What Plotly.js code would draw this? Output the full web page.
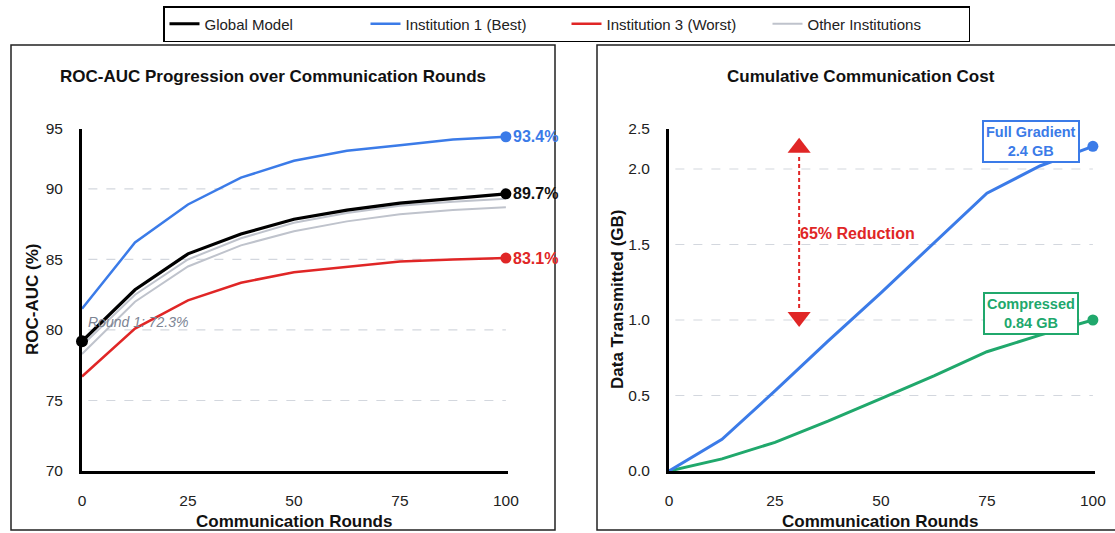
<!DOCTYPE html>
<html>
<head>
<meta charset="utf-8">
<script src="https://cdn.plot.ly/plotly-3.0.1.min.js"></script>
<style>html,body{margin:0;padding:0;background:#fff;}#chart{width:1115px;height:533px;}</style>
</head>
<body>
<div id="chart"></div>
<script>
// ---- data ----
const rounds = [0, 12.5, 25, 37.5, 50, 62.5, 75, 87.5, 100];
const globalAuc = [79.2, 82.85, 85.4, 86.8, 87.85, 88.5, 89.0, 89.35, 89.65];
const inst1Auc = [81.5, 86.2, 88.9, 90.8, 92.0, 92.7, 93.1, 93.5, 93.7];
const inst3Auc = [76.7, 80.1, 82.1, 83.35, 84.1, 84.5, 84.85, 85.0, 85.1];
const otherAucA = [78.9, 82.5, 85.0, 86.5, 87.6, 88.3, 88.8, 89.1, 89.3];
const otherAucB = [78.3, 82.0, 84.5, 86.0, 87.0, 87.7, 88.2, 88.5, 88.7];
const endLabels = {global: '89.7%', inst1: '93.4%', inst3: '83.1%'};
const round1Label = 'Round 1: 72.3%';

const fullGradientGB = [0, 0.21, 0.53, 0.86, 1.18, 1.51, 1.84, 2.02, 2.15];
const compressedGB = [0, 0.08, 0.19, 0.33, 0.48, 0.63, 0.79, 0.90, 1.0];
const fullLabel = 'Full Gradient<br>2.4 GB';
const compLabel = 'Compressed<br>0.84 GB';
const reductionLabel = '65% Reduction';

const aucTickVals = [70, 75, 80, 85, 90, 94.25];
const aucTickText = ['70', '75', '80', '85', '90', '95'];
const gbTickVals = [0, 0.5, 1.0, 1.5, 2.0, 2.265];
const gbTickText = ['0.0', '0.5', '1.0', '1.5', '2.0', '2.5'];
const xTickVals = [0, 25, 50, 75, 100];
const aucGrid = [75, 80, 85, 90];
const gbGrid = [0.5, 1.0, 1.5, 2.0];

// ---- styles ----
const W = 1115, H = 533;
const px = v => v / W, py = v => 1 - v / H;
const FONT = 'Liberation Sans, Arial, Helvetica, sans-serif';
const BLUE = '#3b7be8', RED = '#e02626', GREEN = '#20a86c', BLACK = '#000000', GRAY = '#bfc3cc';
const last = a => a[a.length - 1];

const traces = [
  {x: rounds, y: otherAucA, mode: 'lines', line: {color: GRAY, width: 2}, name: 'Other Institutions', legendgroup: 'other', legendrank: 4, xaxis: 'x', yaxis: 'y'},
  {x: rounds, y: otherAucB, mode: 'lines', line: {color: GRAY, width: 2}, name: 'Other Institutions', legendgroup: 'other', showlegend: false, xaxis: 'x', yaxis: 'y'},
  {x: rounds, y: inst3Auc, mode: 'lines', line: {color: RED, width: 2.5}, name: 'Institution 3 (Worst)', legendrank: 3, xaxis: 'x', yaxis: 'y'},
  {x: rounds, y: inst1Auc, mode: 'lines', line: {color: BLUE, width: 2.5}, name: 'Institution 1 (Best)', legendrank: 2, xaxis: 'x', yaxis: 'y'},
  {x: rounds, y: globalAuc, mode: 'lines', line: {color: BLACK, width: 3.2}, name: 'Global Model', legendrank: 1, xaxis: 'x', yaxis: 'y'},
  // end / start markers
  {x: [last(rounds), last(rounds), last(rounds)], y: [last(inst1Auc), last(globalAuc), last(inst3Auc)], mode: 'markers',
   marker: {color: [BLUE, BLACK, RED], size: 11}, showlegend: false, cliponaxis: false, xaxis: 'x', yaxis: 'y', hoverinfo: 'skip'},
  {x: [rounds[0]], y: [globalAuc[0]], mode: 'markers', marker: {color: BLACK, size: 12}, showlegend: false, cliponaxis: false, xaxis: 'x', yaxis: 'y'},
  // right panel
  {x: rounds, y: compressedGB, mode: 'lines', line: {color: GREEN, width: 3}, showlegend: false, xaxis: 'x2', yaxis: 'y2'},
  {x: rounds, y: fullGradientGB, mode: 'lines', line: {color: BLUE, width: 3}, showlegend: false, xaxis: 'x2', yaxis: 'y2'},
  {x: [last(rounds), last(rounds)], y: [last(fullGradientGB), last(compressedGB)], mode: 'markers',
   marker: {color: [BLUE, GREEN], size: 11}, showlegend: false, cliponaxis: false, xaxis: 'x2', yaxis: 'y2'},
  // reduction arrow heads
  {x: [30.7, 30.7], y: [2.14, 1.02], mode: 'markers', marker: {symbol: ['triangle-up', 'triangle-down'], color: RED, size: 20},
   showlegend: false, cliponaxis: false, xaxis: 'x2', yaxis: 'y2'}
];

const axisCommon = {
  showgrid: false, zeroline: false, showline: true, linecolor: '#000', linewidth: 3,
  ticks: '', tickfont: {family: FONT, size: 15.5, color: '#222'}, ticklabelstandoff: 13, fixedrange: true
};

const shapes = [];
aucGrid.forEach(v => shapes.push({type: 'line', xref: 'x', yref: 'y', x0: 1.5, x1: 100, y0: v, y1: v, layer: 'below', line: {color: '#d3d7de', width: 1.2, dash: 'dash'}}));
gbGrid.forEach(v => shapes.push({type: 'line', xref: 'x2', yref: 'y2', x0: 1.5, x1: 100, y0: v, y1: v, layer: 'below', line: {color: '#d3d7de', width: 1.2, dash: 'dash'}}));
// reduction dashed arrow shaft
shapes.push({type: 'line', xref: 'x2', yref: 'y2', x0: 30.7, x1: 30.7, y0: 2.08, y1: 1.08, line: {color: RED, width: 2, dash: '4px,3px'}});
// panel frames
shapes.push({type: 'rect', xref: 'paper', yref: 'paper', x0: px(11), x1: px(555), y0: py(530), y1: py(45), line: {color: '#222', width: 1.5}});
shapes.push({type: 'rect', xref: 'paper', yref: 'paper', x0: px(597), x1: px(1130), y0: py(530), y1: py(45), line: {color: '#222', width: 1.5}});

const titleFont = {family: FONT, size: 17, color: '#111'};
const ctr = {showarrow: false, xanchor: 'center', yanchor: 'middle', xref: 'paper', yref: 'paper'};
const annotations = [
  Object.assign({x: px(273), y: py(76), text: '<b>ROC-AUC Progression over Communication Rounds</b>', font: titleFont}, ctr),
  Object.assign({x: px(861), y: py(76), text: '<b>Cumulative Communication Cost</b>', font: titleFont}, ctr),
  Object.assign({x: px(294), y: py(521), text: '<b>Communication Rounds</b>', font: titleFont}, ctr),
  Object.assign({x: px(880), y: py(521), text: '<b>Communication Rounds</b>', font: titleFont}, ctr),
  Object.assign({x: px(32), y: py(300), text: '<b>ROC-AUC (%)</b>', textangle: -90, font: titleFont}, ctr),
  Object.assign({x: px(617), y: py(300), text: '<b>Data Transmitted (GB)</b>', textangle: -90, font: titleFont}, ctr),
  // end labels
  {xref: 'x', yref: 'y', x: last(rounds), y: last(inst1Auc), text: '<b>' + endLabels.inst1 + '</b>', xanchor: 'left', yanchor: 'middle', xshift: 5, showarrow: false, font: {family: FONT, size: 16, color: BLUE}},
  {xref: 'x', yref: 'y', x: last(rounds), y: last(globalAuc), text: '<b>' + endLabels.global + '</b>', xanchor: 'left', yanchor: 'middle', xshift: 5, showarrow: false, font: {family: FONT, size: 16, color: '#111'}},
  {xref: 'x', yref: 'y', x: last(rounds), y: last(inst3Auc), text: '<b>' + endLabels.inst3 + '</b>', xanchor: 'left', yanchor: 'middle', xshift: 5, showarrow: false, font: {family: FONT, size: 16, color: RED}},
  {xref: 'x', yref: 'y', x: 1, y: 80.6, text: '<i>' + round1Label + '</i>', xanchor: 'left', yanchor: 'middle', showarrow: false, font: {family: FONT, size: 14, color: '#7c8494'}},
  // right panel annotations
  {xref: 'x2', yref: 'y2', x: 30.4, y: 1.57, text: '<b>' + reductionLabel + '</b>', xanchor: 'left', yanchor: 'middle', showarrow: false, font: {family: FONT, size: 16, color: RED}},
  {xref: 'x2', yref: 'y2', x: 85.4, y: 2.185, text: '<b>' + fullLabel + '</b>', xanchor: 'center', yanchor: 'middle', showarrow: false, bgcolor: '#fff', bordercolor: BLUE, borderwidth: 2, borderpad: 2, font: {family: FONT, size: 14.5, color: BLUE}},
  {xref: 'x2', yref: 'y2', x: 85.4, y: 1.046, text: '<b>' + compLabel + '</b>', xanchor: 'center', yanchor: 'middle', showarrow: false, bgcolor: '#fff', bordercolor: GREEN, borderwidth: 2, borderpad: 2, font: {family: FONT, size: 14.5, color: GREEN}}
];

const layout = {
  width: W, height: H,
  margin: {l: 0, r: 0, t: 0, b: 0},
  paper_bgcolor: '#fff', plot_bgcolor: 'rgba(0,0,0,0)',
  font: {family: FONT},
  showlegend: true,
  legend: {
    orientation: 'h', x: px(163), y: py(6), xanchor: 'left', yanchor: 'top',
    bordercolor: '#000', borderwidth: 1.5, bgcolor: '#fff',
    font: {family: FONT, size: 15, color: '#222'}, entrywidth: 156, entrywidthmode: 'pixels',
    traceorder: 'normal'
  },
  xaxis: Object.assign({}, axisCommon, {domain: [px(82), px(508)], range: [0, 100.5], tickvals: xTickVals, anchor: 'y'}),
  yaxis: Object.assign({}, axisCommon, {domain: [py(471), py(129)], range: [70, 94.25], tickvals: aucTickVals, ticktext: aucTickText, anchor: 'x'}),
  xaxis2: Object.assign({}, axisCommon, {domain: [px(669), px(1095)], range: [0, 100.5], tickvals: xTickVals, anchor: 'y2'}),
  yaxis2: Object.assign({}, axisCommon, {domain: [py(471), py(129)], range: [0, 2.265], tickvals: gbTickVals, ticktext: gbTickText, anchor: 'x2'}),
  shapes: shapes,
  annotations: annotations
};

Plotly.newPlot('chart', traces, layout, {displayModeBar: false, staticPlot: true});
</script>
</body>
</html>
